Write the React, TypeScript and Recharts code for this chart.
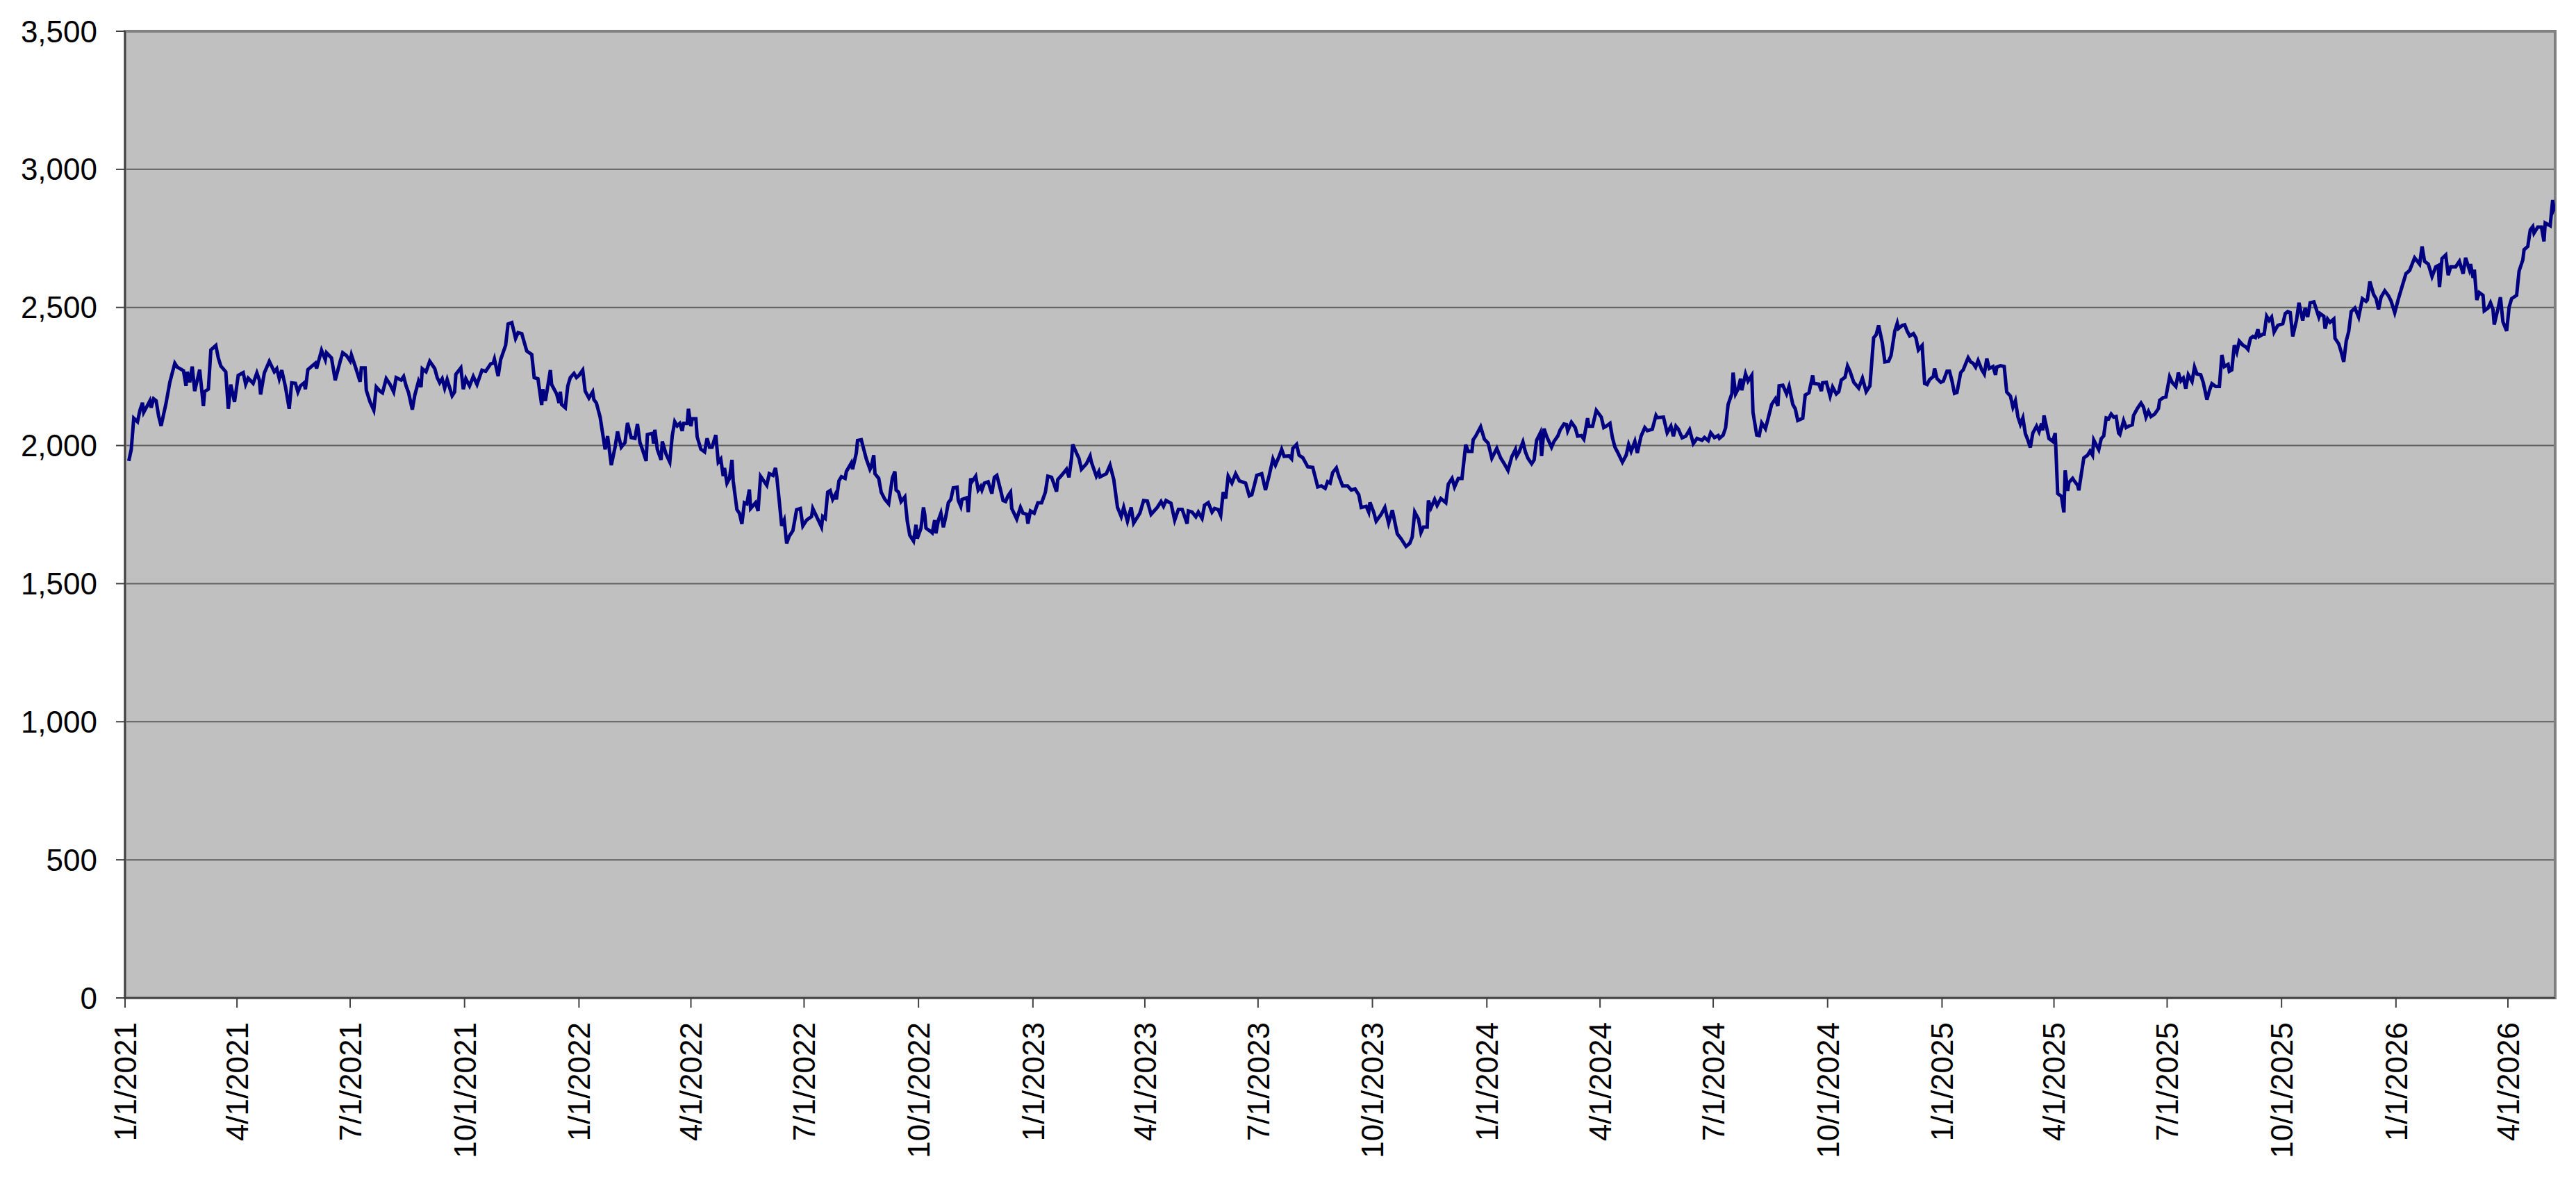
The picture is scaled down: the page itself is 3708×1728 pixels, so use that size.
import React from 'react';
import { LineChart, Line, XAxis, YAxis, CartesianGrid, ReferenceArea } from 'recharts';

// Days since 1/1/2021 and index values (segment 1: 2021 – mid 2022)
const seg1Days = [3,5,7,10,12,14,15,18,20,21,23,25,27,29,33,36,40,42,47,49,50,52,54,56,60,63,64,67,69,73,75,77,81,83,85,88,91,95,97,99,103,106,108,109,112,116,120,122,124,126,129,132,134,137,139,141,144,145,147,153,154,158,161,162,166,169,173,175,178,181,182,185,189,190,193,194,197,200,202,205,207,210,213,216,218,222,224,226,228,231,233,236,238,239,242,245,249,251,253,255,257,259,263,265,266,270,272,274,277,280,283,287,290,294,296,297,300,302,306,308,311,314,316,319,323,327,329,332,335,336,338,342,343,347,349,350,351,354,356,358,361,363,365,368,370,373,376,377,379,382,386,388,391,394,396,399,402,404,407,410,412,414,416,419,420,424,425,426,428,431,432,435,438,440,442,444,446,448,449,452,453,455,456,459,460,463,466,468,470,472,475,477,479,481,482,484,486,488,489,492,494,496,498];
const seg1Values = [1944,1986,2099,2086,2128,2155,2120,2145,2162,2137,2169,2162,2107,2071,2154,2229,2298,2284,2271,2216,2267,2229,2286,2197,2275,2143,2195,2204,2346,2362,2317,2288,2267,2133,2221,2158,2254,2264,2222,2244,2225,2263,2237,2185,2263,2305,2267,2278,2242,2273,2212,2133,2227,2225,2194,2216,2227,2204,2275,2298,2279,2345,2311,2336,2317,2236,2305,2336,2326,2306,2328,2288,2231,2281,2281,2200,2158,2128,2212,2197,2191,2242,2222,2194,2246,2237,2250,2216,2191,2130,2183,2233,2212,2278,2267,2305,2279,2246,2227,2242,2208,2239,2180,2194,2258,2281,2204,2242,2216,2250,2221,2273,2269,2296,2298,2313,2251,2311,2363,2440,2445,2388,2409,2405,2342,2330,2246,2242,2147,2204,2162,2273,2221,2187,2154,2195,2149,2137,2216,2246,2261,2246,2254,2273,2197,2172,2194,2166,2154,2103,1986,2034,1929,1994,2051,1994,2011,2082,2029,2026,2078,2011,1986,1944,2040,2044,2007,2057,1986,1948,2015,1969,1940,2036,2086,2071,2080,2053,2080,2080,2133,2070,2097,2097,2032,1987,1977,2026,1994,1994,2038,1940,1951,1889,1919,1864,1881,1948,1872,1768,1755,1716,1793];

// Segment 2: mid 2022 – late 2023
const seg2Days = [500,502,503,507,509,511,516,518,521,523,524,526,528,530,532,534,537,540,543,545,548,552,553,557,560,561,563,565,567,569,571,572,574,576,579,580,584,585,588,589,592,594,596,599,600,602,603,606,608,611,614,617,619,620,622,624,627,629,631,634,636,637,640,642,643,644,648,649,651,652,654,656,658,660,662,664,666,669,670,672,673,677,678,680,681,684,686,688,689,691,694,697,699,701,704,706,708,710,712,713,717,720,722,725,726,728,731,734,737,740,742,745,747,749,750,753,757,759,761,762,765,767,769,773,776,777,781,783,784,789,792,795,798,801,803,806,809,811,816,819,822,825,830,833,835,837,841,844,847,850,854,855,858,861,863,866,868,871,874,876,879,881,883,885,887,890,893,896,901,904,906,908,910,914,917,920,923,925,928,930,932,936,938,939,942,944,947,951,955,959,962,965,967,969,971,974,976,979,983,986];
const seg2Values = [1789,1841,1772,1793,1763,1889,1856,1898,1892,1919,1889,1801,1709,1730,1646,1671,1692,1768,1772,1709,1730,1743,1772,1734,1705,1743,1736,1831,1837,1805,1822,1805,1872,1887,1881,1906,1937,1914,1973,2018,2021,1986,1952,1914,1923,1965,1898,1881,1831,1805,1789,1883,1906,1839,1831,1797,1814,1726,1675,1654,1713,1663,1701,1776,1751,1701,1688,1684,1730,1682,1730,1755,1704,1744,1793,1805,1847,1849,1801,1780,1805,1811,1759,1881,1869,1889,1839,1852,1839,1864,1869,1826,1885,1892,1839,1801,1797,1818,1831,1772,1734,1776,1755,1751,1717,1763,1755,1793,1793,1831,1889,1885,1860,1833,1877,1892,1914,1885,1952,2004,1973,1954,1914,1934,1962,1940,1889,1906,1887,1898,1929,1877,1776,1743,1776,1726,1776,1719,1755,1801,1799,1751,1776,1797,1780,1801,1791,1730,1769,1769,1717,1763,1759,1742,1759,1736,1784,1793,1759,1772,1768,1747,1831,1808,1889,1864,1898,1872,1864,1818,1822,1856,1892,1898,1839,1892,1951,1929,1961,1986,1961,1962,1952,1990,2004,1965,1956,1923,1921,1850,1854,1845,1869,1864,1902,1919,1889,1854,1854,1839];

// Segment 3: late 2023 – end 2024
const seg3Days = [989,992,994,998,1000,1001,1004,1006,1010,1013,1016,1019,1023,1026,1030,1033,1035,1037,1040,1042,1044,1047,1048,1050,1053,1055,1058,1062,1064,1067,1069,1072,1075,1078,1080,1083,1084,1086,1090,1093,1096,1099,1103,1106,1109,1112,1115,1118,1119,1121,1124,1126,1128,1131,1133,1135,1138,1139,1141,1143,1147,1149,1152,1154,1157,1159,1160,1163,1166,1168,1171,1173,1176,1177,1180,1183,1187,1189,1191,1194,1196,1198,1200,1204,1207,1209,1211,1214,1216,1219,1222,1224,1228,1231,1232,1237,1240,1243,1245,1247,1249,1252,1255,1258,1261,1264,1268,1270,1273,1275,1278,1281,1282,1285,1287,1289,1292,1293,1295,1297,1299,1300,1303,1305,1308,1309,1312,1314,1316,1319,1321,1324,1327,1329,1330,1333,1336,1338,1341,1343,1345,1349,1351,1354,1357,1358,1362,1364,1365,1368,1371,1373,1376,1378,1380,1383,1385,1387,1390,1394,1397,1400,1403,1406,1408,1410,1413,1415,1418,1420,1423,1425,1426,1429,1431,1433,1435,1438,1440,1442,1445,1447,1449,1451,1454,1455,1457,1460,1462];
const seg3Values = [1843,1822,1776,1780,1759,1794,1759,1726,1751,1776,1719,1766,1680,1663,1635,1646,1669,1759,1734,1685,1705,1705,1801,1774,1805,1783,1808,1793,1860,1881,1850,1881,1881,2003,1979,1979,2021,2034,2068,2023,2009,1954,1990,1956,1934,1910,1959,1986,1961,1977,2013,1977,1954,1934,1948,2019,2046,1962,2061,2034,1994,2015,2034,2057,2078,2076,2053,2084,2065,2034,2036,2023,2099,2070,2070,2127,2103,2065,2070,2080,2028,1994,1977,1940,1965,2004,1979,2015,1973,2034,2065,2054,2059,2109,2101,2103,2046,2070,2034,2070,2059,2028,2034,2057,2007,2026,2019,2029,2018,2046,2029,2036,2026,2038,2065,2149,2187,2264,2187,2204,2242,2200,2259,2233,2254,2120,2038,2036,2082,2061,2095,2149,2169,2143,2216,2218,2187,2214,2149,2133,2091,2099,2183,2191,2254,2225,2222,2197,2227,2229,2179,2212,2187,2195,2237,2247,2288,2269,2229,2208,2244,2195,2216,2390,2401,2435,2372,2303,2305,2326,2414,2443,2424,2435,2437,2414,2397,2405,2390,2346,2362,2225,2221,2239,2250,2279,2242,2229,2233];

// Segment 4: 2025 – May 2026
const seg4Days = [1465,1467,1469,1471,1473,1476,1478,1482,1484,1486,1488,1490,1493,1495,1497,1499,1502,1504,1505,1508,1511,1513,1516,1518,1520,1522,1524,1526,1528,1530,1532,1534,1537,1539,1541,1542,1543,1547,1550,1552,1554,1557,1559,1560,1562,1563,1566,1567,1570,1571,1575,1578,1580,1582,1583,1587,1589,1591,1593,1595,1597,1599,1601,1603,1604,1607,1609,1611,1614,1615,1618,1621,1623,1625,1627,1629,1632,1635,1636,1639,1641,1644,1646,1649,1651,1653,1655,1657,1659,1662,1664,1666,1669,1671,1674,1676,1678,1681,1684,1686,1688,1691,1692,1694,1696,1698,1700,1703,1705,1707,1709,1711,1713,1715,1716,1719,1720,1722,1724,1726,1728,1731,1735,1737,1739,1741,1743,1746,1748,1751,1753,1755,1757,1760,1764,1765,1768,1769,1771,1773,1776,1777,1780,1782,1784,1786,1788,1790,1793,1796,1799,1802,1803,1805,1808,1810,1812,1814,1817,1820,1822,1825,1828,1831,1834,1837,1841,1845,1847,1849,1852,1855,1858,1860,1861,1863,1866,1868,1870,1874,1877,1880,1882,1885,1886,1888,1889,1891,1893,1896,1897,1900,1902,1904,1905,1908,1910,1912,1915,1917,1919,1923,1925,1928,1929,1932,1934,1936,1937,1940,1943,1945,1946,1950,1952,1953,1954];
const seg4Values = [2269,2269,2234,2189,2192,2264,2274,2318,2303,2298,2284,2308,2274,2259,2315,2279,2286,2256,2284,2289,2286,2194,2179,2139,2162,2104,2077,2100,2043,2020,1993,2045,2070,2050,2080,2055,2109,2025,2015,2045,1826,1816,1758,1910,1836,1866,1881,1874,1856,1838,1955,1965,1980,1965,2020,1985,2025,2035,2100,2097,2114,2103,2105,2045,2040,2090,2065,2070,2075,2109,2134,2154,2139,2103,2124,2105,2114,2134,2164,2174,2176,2249,2229,2214,2264,2234,2244,2206,2256,2232,2284,2259,2256,2229,2166,2199,2224,2214,2214,2328,2286,2294,2269,2274,2363,2338,2378,2363,2358,2348,2388,2395,2391,2421,2395,2403,2403,2468,2453,2465,2411,2435,2441,2478,2485,2481,2395,2453,2517,2453,2498,2465,2517,2520,2465,2478,2468,2423,2458,2446,2458,2388,2368,2338,2303,2378,2413,2485,2498,2465,2532,2522,2527,2594,2547,2532,2493,2537,2560,2542,2524,2481,2532,2577,2622,2634,2680,2657,2721,2667,2657,2612,2647,2652,2574,2677,2690,2617,2647,2647,2667,2622,2680,2637,2657,2607,2637,2527,2554,2544,2488,2498,2517,2493,2438,2495,2537,2448,2415,2502,2532,2544,2632,2672,2709,2721,2781,2793,2769,2791,2791,2739,2806,2796,2889,2856,2866];

// Axis ticks
const tickDays = [0,90,181,273,365,455,546,638,730,820,911,1003,1095,1186,1277,1369,1461,1551,1642,1734,1826,1916];
const tickLabels = ['1/1/2021','4/1/2021','7/1/2021','10/1/2021','1/1/2022','4/1/2022','7/1/2022','10/1/2022','1/1/2023','4/1/2023','7/1/2023','10/1/2023','1/1/2024','4/1/2024','7/1/2024','10/1/2024','1/1/2025','4/1/2025','7/1/2025','10/1/2025','1/1/2026','4/1/2026'];
const yTicks = [0,500,1000,1500,2000,2500,3000,3500];

const allDays = [...seg1Days, ...seg2Days, ...seg3Days, ...seg4Days];
const allValues = [...seg1Values, ...seg2Values, ...seg3Values, ...seg4Values];
const n = Math.min(allDays.length, allValues.length);
const data = allDays.slice(0, n).map((d, i) => ({ day: d, value: allValues[i] }));

const FONT = "'Liberation Sans', Arial, sans-serif";

const XTick = (props: any) => {
  const { x, y, payload } = props;
  const idx = tickDays.indexOf(payload.value);
  const label = idx >= 0 ? tickLabels[idx] : '';
  return (
    <text
      x={x}
      y={y}
      transform={`rotate(-90, ${x}, ${y})`}
      textAnchor="end"
      dy="0.36em"
      fontSize={44}
      fill="#000"
      fontFamily={FONT}
    >
      {label}
    </text>
  );
};

export default function App() {
  return (
    <div style={{ position: 'absolute', left: 0, top: 0, width: 3708, height: 1728, background: '#fff', fontFamily: FONT }}>
      <LineChart width={3708} height={1728} data={data} margin={{ top: 45, right: 30, bottom: 0, left: 0 }}>
        <CartesianGrid vertical={false} fill="#C0C0C0" fillOpacity={1} stroke="#606060" strokeWidth={2} />
        <ReferenceArea x1={0} x2={1954} y1={0} y2={3500} fill="none" stroke="#808080" strokeWidth={4} />
        <XAxis
          dataKey="day"
          type="number"
          domain={[0, 1954]}
          ticks={tickDays}
          interval={0}
          height={291}
          tickSize={14}
          tickMargin={21}
          axisLine={{ stroke: '#404040', strokeWidth: 2 }}
          tickLine={{ stroke: '#404040', strokeWidth: 2 }}
          tick={<XTick />}
          allowDataOverflow
        />
        <YAxis
          type="number"
          domain={[0, 3500]}
          ticks={yTicks}
          interval={0}
          width={180}
          tickSize={13}
          tickMargin={27}
          axisLine={{ stroke: '#404040', strokeWidth: 2 }}
          tickLine={{ stroke: '#404040', strokeWidth: 2 }}
          tick={{ fill: '#000', fontSize: 44, fontFamily: FONT }}
          tickFormatter={(v: number) => v.toLocaleString('en-US')}
        />
        <Line
          type="linear"
          dataKey="value"
          stroke="#000080"
          strokeWidth={5}
          dot={false}
          isAnimationActive={false}
        />
      </LineChart>
    </div>
  );
}
